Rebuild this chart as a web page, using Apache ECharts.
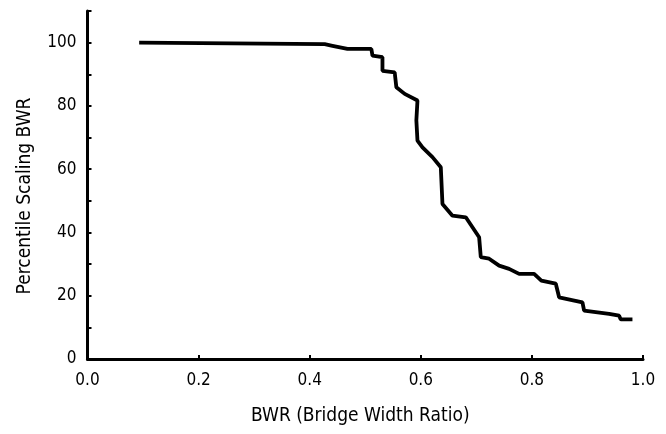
<!DOCTYPE html>
<html>
<head>
<meta charset="utf-8">
<script src="https://cdn.jsdelivr.net/npm/echarts@6/dist/echarts.min.js"></script>
<style>
html,body{margin:0;padding:0;background:#fff;}
#chart{width:666px;height:434px;}
</style>
</head>
<body>
<div id="chart"></div>
<script>
// BWR values (x) and percentile scaling (y)
const bwr = [0.093, 0.427, 0.441, 0.468, 0.511, 0.513, 0.531, 0.531, 0.553, 0.556, 0.571, 0.594,
             0.592, 0.594, 0.603, 0.621, 0.636, 0.639, 0.657, 0.681, 0.705, 0.708, 0.723, 0.741,
             0.759, 0.777, 0.804, 0.817, 0.843, 0.846, 0.849, 0.891, 0.894, 0.939, 0.957, 0.960, 0.981];
const percentile = [100, 99.5, 99.0, 98.0, 98.0, 95.9, 95.4, 91.1, 90.6, 85.9, 83.8, 81.7,
                    75.4, 69.0, 66.9, 63.8, 60.6, 49.0, 45.3, 44.8, 38.5, 32.2, 31.7, 29.5,
                    28.5, 26.9, 26.9, 24.8, 23.8, 23.8, 19.5, 17.9, 15.3, 14.3, 13.7, 12.5, 12.5];
const xTicks = [0.0, 0.2, 0.4, 0.6, 0.8, 1.0];
const yTicks = [0, 20, 40, 60, 80, 100];

const FONT = "'DejaVu Sans Condensed', 'Liberation Sans', sans-serif";
const chart = echarts.init(document.getElementById('chart'), null, {renderer: 'canvas'});
chart.setOption({
  animation: false,
  backgroundColor: '#ffffff',
  grid: {left: 87.5, right: 23, top: 11, bottom: 75, containLabel: false},
  xAxis: {
    type: 'value', min: 0, max: 1, interval: 0.2,
    name: 'BWR (Bridge Width Ratio)', nameLocation: 'middle', nameGap: 48,
    nameTextStyle: {fontFamily: FONT, fontSize: 19, color: '#000', padding: [0, 10, 0, 0]},
    axisLine: {lineStyle: {color: '#000', width: 3}},
    axisTick: {inside: true, length: 4, lineStyle: {color: '#000', width: 2}},
    axisLabel: {fontFamily: FONT, fontSize: 17, color: '#000', margin: 13,
      formatter: v => xTicks.some(t => Math.abs(t - v) < 1e-9) ? v.toFixed(1) : ''},
    splitLine: {show: false}
  },
  yAxis: {
    type: 'value', min: 0, max: 110, interval: 10,
    name: 'Percentile Scaling BWR', nameLocation: 'middle', nameGap: 53,
    nameTextStyle: {fontFamily: FONT, fontSize: 19, color: '#000', padding: [0, 22, 0, 0]},
    axisLine: {lineStyle: {color: '#000', width: 3}},
    axisTick: {inside: true, length: 4, lineStyle: {color: '#000', width: 2}},
    axisLabel: {fontFamily: FONT, fontSize: 17, color: '#000', margin: 11,
      formatter: v => yTicks.indexOf(v) >= 0 ? String(v) : ''},
    splitLine: {show: false}
  },
  series: [{
    type: 'line',
    data: bwr.map((x, i) => [x, percentile[i]]),
    showSymbol: false,
    lineStyle: {color: '#000', width: 3.8},
    itemStyle: {color: '#000'}
  }]
});
</script>
</body>
</html>
